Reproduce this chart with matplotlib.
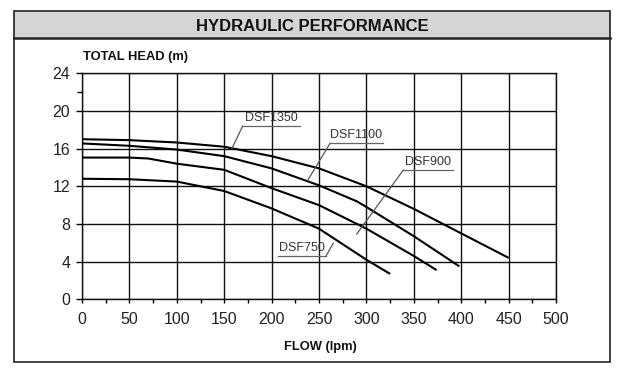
import matplotlib.pyplot as plt
from matplotlib.patches import Rectangle
from matplotlib.ticker import MultipleLocator, FixedLocator

plt.rcParams['font.family'] = ['Liberation Sans', 'DejaVu Sans']

# curve data (flow lpm, head m)
flow_1350 = [0, 50, 100, 150, 200, 250, 300, 350, 400, 450]
head_1350 = [17.0, 16.9, 16.65, 16.2, 15.2, 13.9, 12.0, 9.6, 7.0, 4.4]

flow_1100 = [0, 50, 100, 150, 200, 250, 290, 300, 350, 398]
head_1100 = [16.55, 16.3, 15.9, 15.2, 13.9, 12.1, 10.4, 9.8, 6.7, 3.5]

flow_900 = [0, 25, 50, 70, 100, 150, 200, 250, 300, 350, 374]
head_900 = [15.05, 15.05, 15.05, 14.95, 14.4, 13.75, 11.8, 10.0, 7.5, 4.6, 3.1]

flow_750 = [0, 50, 100, 150, 200, 250, 300, 325]
head_750 = [12.8, 12.75, 12.5, 11.5, 9.65, 7.5, 4.2, 2.7]

curves = [(flow_1350, head_1350), (flow_1100, head_1100),
          (flow_900, head_900), (flow_750, head_750)]

labels = ['DSF1350', 'DSF1100', 'DSF900', 'DSF750']
# underline start/end (flow), underline head, leader tip (flow, head)
label_line_x = [(169.5, 230), (261.6, 317.2), (339, 391), (206.8, 257.4)]
label_line_y = [18.4, 16.56, 13.73, 4.6]
label_tip = [(158, 16.0), (238.7, 12.74), (289.8, 6.93), (265, 5.95)]
leader_from_end = [False, False, False, True]

x_ticks = [0, 50, 100, 150, 200, 250, 300, 350, 400, 450, 500]
y_ticks = [0, 4, 8, 12, 16, 20, 24]

fig = plt.figure(figsize=(6.2, 3.77), dpi=100)

# outer frame and title band
fig.patches.append(Rectangle((0.0224, 0.8984), 0.9615, 0.0724, transform=fig.transFigure,
                             facecolor='#d5d5d5', edgecolor='none', zorder=0))
fig.patches.append(Rectangle((0.0224, 0.0406), 0.9615, 0.9302, transform=fig.transFigure,
                             facecolor='none', edgecolor='#222222', lw=1.2, zorder=1))
fig.lines.append(plt.Line2D([0.0224, 0.9839], [0.8984, 0.8984], transform=fig.transFigure,
                            color='#222222', lw=1.8))

fig.text(0.503, 0.9186, 'HYDRAULIC PERFORMANCE', ha='center', va='baseline',
         fontsize=12, fontweight='bold', color='#111111')
fig.text(0.1334, 0.8408, 'TOTAL HEAD (m)', ha='left', va='baseline',
         fontsize=9.3, fontweight='bold', color='#111111')
fig.text(0.517, 0.0708, 'FLOW (lpm)', ha='center', va='baseline',
         fontsize=9.3, fontweight='bold', color='#111111')

ax = fig.add_axes([0.1323, 0.2061, 0.7645, 0.5995])
ax.set_xlim(0, 500)
ax.set_ylim(0, 24)
ax.set_xticks(x_ticks)
ax.set_yticks(y_ticks)
ax.xaxis.set_minor_locator(MultipleLocator(25))
ax.yaxis.set_minor_locator(FixedLocator([22]))
ax.grid(True, which='major', color='#111111', lw=1.0)
for s in ax.spines.values():
    s.set_color('#111111')
    s.set_linewidth(1.0)
ax.tick_params(axis='x', which='both', direction='out', length=3.2, width=1.0, pad=6,
               labelsize=11.5, labelcolor='#222222')
ax.tick_params(axis='y', which='major', direction='out', length=4.5, width=1.0, pad=4,
               labelsize=11.5, labelcolor='#222222')
ax.tick_params(axis='y', which='minor', direction='out', length=3.5, width=1.0)

for fl, hd in curves:
    ax.plot(fl, hd, color='black', lw=1.5, solid_capstyle='butt', zorder=3)

for i, name in enumerate(labels):
    x0, x1 = label_line_x[i]
    yl = label_line_y[i]
    ax.plot([x0, x1], [yl, yl], color='#666666', lw=0.9, zorder=4)
    start = x1 if leader_from_end[i] else x0
    ax.plot([start, label_tip[i][0]], [yl, label_tip[i][1]], color='#555555', lw=0.9, zorder=4)
    ax.text((x0 + x1) / 2, yl + 0.25, name, ha='center', va='bottom',
            fontsize=9, color='#333333', zorder=5)

fig.savefig('out.png', dpi=100)
